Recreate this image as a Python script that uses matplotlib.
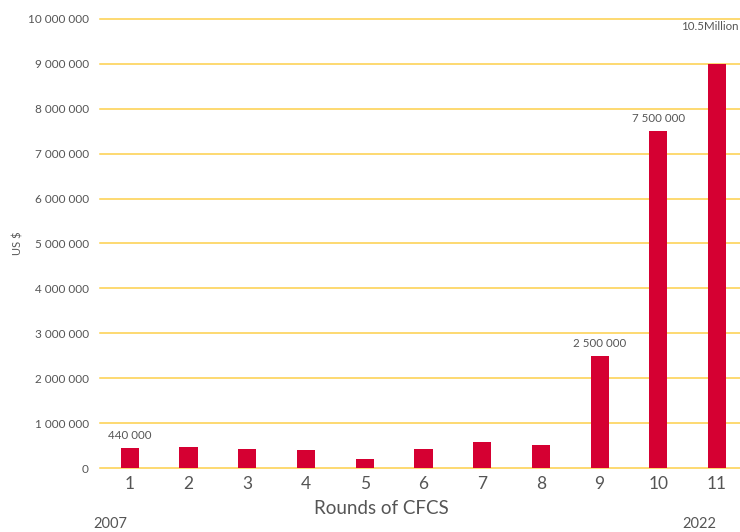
import matplotlib.pyplot as plt
from matplotlib.ticker import FuncFormatter

rounds = [1, 2, 3, 4, 5, 6, 7, 8, 9, 10, 11]
funding = [440000, 460000, 430000, 400000, 200000, 420000, 570000, 510000,
           2500000, 7500000, 9000000]
bar_labels = ["440 000", "", "", "", "", "", "", "", "2 500 000", "7 500 000", "10.5Million"]
y_ticks = [0, 1000000, 2000000, 3000000, 4000000, 5000000, 6000000, 7000000,
           8000000, 9000000, 10000000]

plt.rcParams["font.family"] = ["Lato", "DejaVu Sans"]
text_col = "#555555"

fig = plt.figure(figsize=(7.4, 5.32), dpi=100)
ax = fig.add_axes([0.135, 0.1203, 0.865, 0.844])

ax.bar(rounds, funding, width=0.31, color="#d50032", zorder=3)
for i, (x, v, lab) in enumerate(zip(rounds, funding, bar_labels)):
    if not lab:
        continue
    # last bar is cut at 9M, its label sits up near the top line
    off = (-5, 27) if i == len(rounds) - 1 else (0, 9)
    ax.annotate(lab, (x, v), xytext=off, textcoords="offset points",
                ha="center", va="center", fontsize=8.3, color=text_col,
                annotation_clip=False)

ax.set_xlim(0.49, 11.39)
ax.set_ylim(0, 10000000)
ax.set_yticks(y_ticks)
ax.yaxis.set_major_formatter(FuncFormatter(lambda v, p: f"{int(v):,}".replace(",", " ")))
ax.set_xticks(rounds)
ax.grid(True, axis="y", color="#fdd04a", linewidth=1.1, zorder=0)
for gl in ax.get_ygridlines():
    gl.set_clip_on(False)
ax.tick_params(axis="y", length=0, labelsize=8.5, labelcolor=text_col, pad=8)
ax.tick_params(axis="x", length=0, labelsize=12.5, labelcolor=text_col, pad=6)
for s in ax.spines.values():
    s.set_visible(False)

ax.set_ylabel("US $", fontsize=8, color=text_col)
ax.yaxis.set_label_coords(-0.12, 0.5)

fig.text(381 / 740, 1 - 508 / 532, "Rounds of CFCS", fontsize=13.5, color=text_col,
         ha="center", va="center")
fig.text(110 / 740, 1 - 524 / 532, "2007", fontsize=10.5, color=text_col, ha="center", va="center")
fig.text(699 / 740, 1 - 524 / 532, "2022", fontsize=10.5, color=text_col, ha="center", va="center")

fig.savefig("out.png", dpi=100, facecolor="white")
